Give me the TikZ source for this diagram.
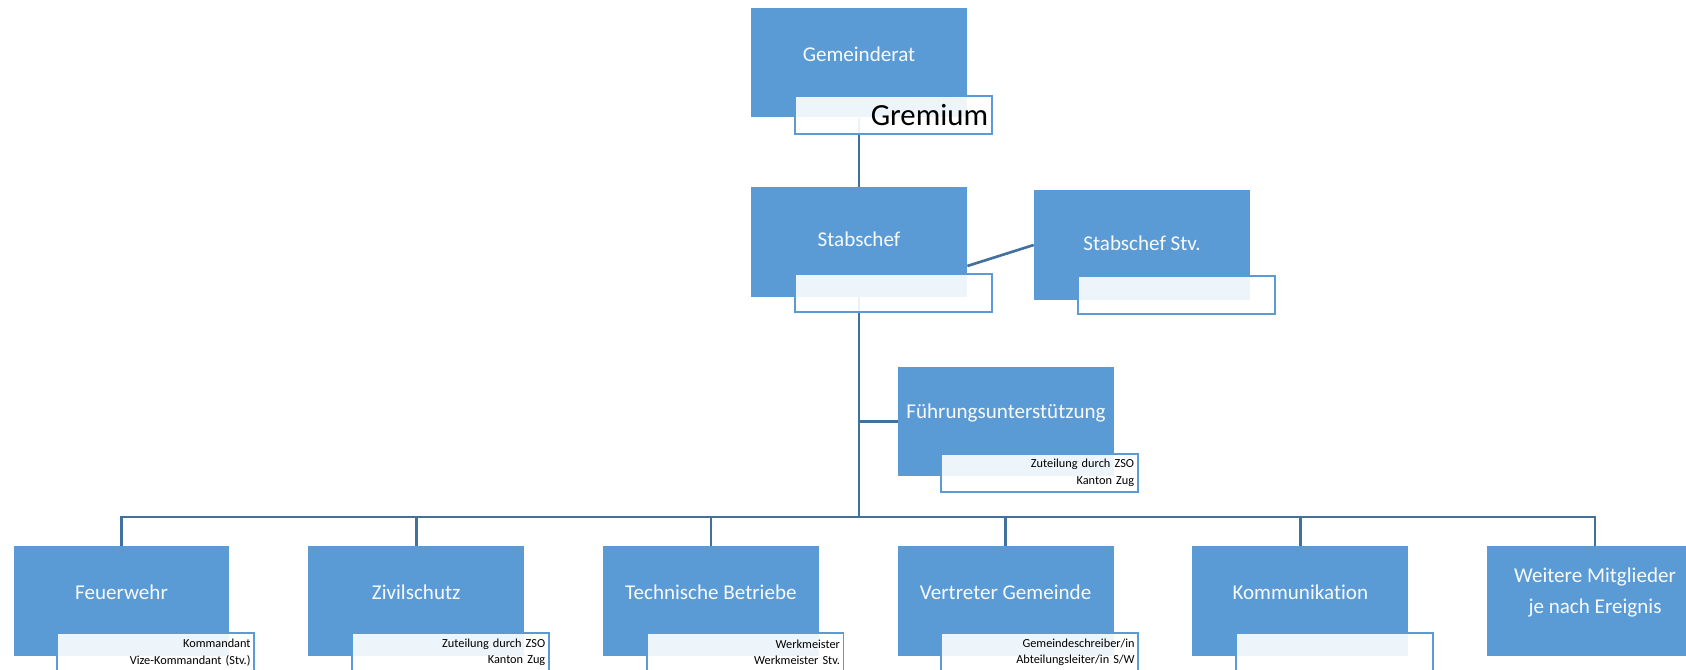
\documentclass[tikz,border=0pt]{standalone}
\usepackage{fontspec}
\setmainfont{Carlito}[Ligatures={NoCommon,NoContextual}]
\usetikzlibrary{positioning}
\pgfdeclarelayer{bg}
\pgfsetlayers{bg,main}
\definecolor{boxblue}{RGB}{91,155,213}
\definecolor{lineblue}{RGB}{65,113,156}
\tikzset{
  unit/.style={rectangle,fill=boxblue,minimum width=4.32cm,minimum height=2.2cm,inner sep=0pt},
  unittext/.style={text=white!95!boxblue,font=\fontsize{12}{17.5}\selectfont,align=center},
  memo/.style={rectangle,draw=boxblue,line width=1.1pt,fill=white,fill opacity=0.9,text opacity=1,
    anchor=north west,minimum height=0.76cm,inner xsep=0.07cm,inner ysep=0pt,text width=3.8cm,
    align=right,font=\fontsize{7}{9.6}\selectfont},
  conn/.style={draw=lineblue,line width=1.5pt}
}
\begin{document}
\begin{tikzpicture}[x=0.02cm,y=-0.02cm]
  \clip (0,0) rectangle (1686,669);
  % top of the staff
  \node[unit] (gr) at (859,62.5) {};
  \node[unittext] (grt) at ([yshift=4.8pt]gr.center) {Gemeinderat};
  \node[memo,font=\fontsize{17.5}{20}\selectfont] (grm) at ([xshift=0.86cm,yshift=0.46cm]gr.south west) {Gremium};
  \node[unit] (sc) at (859,242) {};
  \node[unittext] (sct) at ([yshift=1.7pt]sc.center) {Stabschef};
  \node[memo] (scm) at ([xshift=0.86cm,yshift=0.48cm]sc.south west) {};
  \node[unit] (sv) at (1142,245) {};
  \node[unittext] (svt) at ([yshift=1.2pt]sv.center) {Stabschef Stv.};
  \node[memo] (svm) at ([xshift=0.86cm,yshift=0.5cm]sv.south west) {};
  \node[unit] (fu) at (1006,421.5) {};
  \node[unittext] (fut) at ([yshift=5pt]fu.center) {Führungsunterstützung};
  \node[memo] (fum) at ([xshift=0.84cm,yshift=0.48cm]fu.south west) {Zuteilung durch ZSO\\Kanton Zug};
  % bottom row
  \node[unit] (fw) at (121.5,601) {};
  \node[unittext] (fwt) at ([yshift=5pt]fw.center) {Feuerwehr};
  \node[memo] (fwm) at ([xshift=0.86cm,yshift=0.48cm]fw.south west) {Kommandant\\Vize-Kommandant (Stv.)};
  \node[unit] (zs) at (416.2,601) {};
  \node[unittext] (zst) at ([yshift=5pt]zs.center) {Zivilschutz};
  \node[memo] (zsm) at ([xshift=0.86cm,yshift=0.48cm]zs.south west) {Zuteilung durch ZSO\\Kanton Zug};
  \node[unit] (tb) at (710.9,601) {};
  \node[unittext] (tbt) at ([yshift=5pt]tb.center) {Technische Betriebe};
  \node[memo] (tbm) at ([xshift=0.86cm,yshift=0.48cm]tb.south west) {Werkmeister\\Werkmeister Stv.};
  \node[unit] (vg) at (1005.6,601) {};
  \node[unittext] (vgt) at ([yshift=5pt]vg.center) {Vertreter Gemeinde};
  \node[memo] (vgm) at ([xshift=0.86cm,yshift=0.48cm]vg.south west) {Gemeindeschreiber/in\\Abteilungsleiter/in S/W};
  \node[unit] (ko) at (1300.3,601) {};
  \node[unittext] (kot) at ([yshift=5pt]ko.center) {Kommunikat\kern0pt ion};
  \node[memo] (kom) at ([xshift=0.86cm,yshift=0.48cm]ko.south west) {};
  \node[unit] (wm) at (1595,601) {};
  \node[unittext] (wmt) at ([yshift=5pt]wm.center) {Weitere Mit\kern0pt glieder\\je nach Ereignis};
  \coordinate (bus) at (859,517);
  % connectors behind the boxes
  \begin{pgfonlayer}{bg}
    \draw[conn] (gr.south) -- (sc.north);
    \draw[conn] (sc.south) -- (bus);
    \draw[conn] ([yshift=-0.48cm]sc.east) -- (sv.west);
    \draw[conn] (sc.south |- fu.west) -- (fu.west);
    \draw[conn] (bus) -| (fw.north);
    \draw[conn] (bus) -| (zs.north);
    \draw[conn] (bus) -| (tb.north);
    \draw[conn] (bus) -| (vg.north);
    \draw[conn] (bus) -| (ko.north);
    \draw[conn] (bus) -| (wm.north);
  \end{pgfonlayer}
\end{tikzpicture}
\end{document}
